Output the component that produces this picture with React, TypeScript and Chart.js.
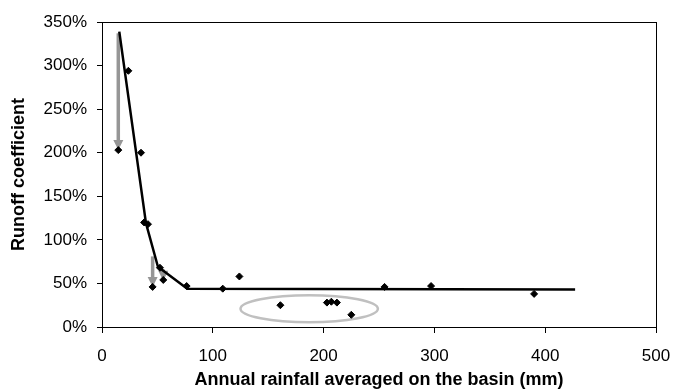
import React, { useEffect, useRef } from 'react';
import { Chart, registerables } from 'chart.js';

Chart.register(...registerables);

// Observed basins: annual rainfall (mm) and runoff coefficient (%)
const rainfall = [14.7, 23.8, 35.2, 38, 41.5, 45.7, 52.3, 55.3, 76.4, 109, 124, 161, 203, 207, 212, 225, 255, 297, 390];
const runoff = [203, 294, 200, 120, 118, 46, 68, 54, 47, 44, 58, 25, 28, 29, 28, 14, 46, 47, 38];

// Fitted curve
const curveRainfall = [15.6, 39.7, 50.5, 77, 427];
const curveRunoff = [339, 119, 69, 44, 43];

// Grey arrows (rainfall, from %, to %)
const arrowRainfall = [14.7, 45.7, 55.3];
const arrowFrom = [337, 81, 66];
const arrowTo = [203, 46, 53];

// Grey ellipse around the cluster (centre and radii in data units)
const ellipseCenter = [187, 21];
const ellipseRadius = [62, 15.5];

const xMin = 0, xMax = 500, xStep = 100;
const yMin = 0, yMax = 350, yStep = 50;

const xTitle = 'Annual rainfall averaged on the basin (mm)';
const yTitle = 'Runoff coefficient';

export default function App() {
  const ref = useRef<HTMLCanvasElement>(null);

  useEffect(() => {
    if (!ref.current) return;
    const overlay = {
      id: 'overlay',
      beforeDatasetsDraw(chart: any) {
        const { ctx, scales } = chart;
        const xs = scales.x, ys = scales.y;
        ctx.save();
        // ellipse
        const cx = xs.getPixelForValue(ellipseCenter[0]);
        const cy = ys.getPixelForValue(ellipseCenter[1]);
        const rx = Math.abs(xs.getPixelForValue(ellipseCenter[0] + ellipseRadius[0]) - cx);
        const ry = Math.abs(ys.getPixelForValue(ellipseCenter[1] + ellipseRadius[1]) - cy);
        ctx.beginPath();
        ctx.ellipse(cx, cy, rx, ry, 0, 0, Math.PI * 2);
        ctx.strokeStyle = '#c0c0c0';
        ctx.lineWidth = 2.5;
        ctx.stroke();
        // arrows
        ctx.fillStyle = '#969696';
        ctx.strokeStyle = '#969696';
        for (let i = 0; i < arrowRainfall.length; i++) {
          const px = xs.getPixelForValue(arrowRainfall[i]);
          const y0 = ys.getPixelForValue(arrowFrom[i]);
          const y1 = ys.getPixelForValue(arrowTo[i]);
          const head = 10;
          ctx.lineWidth = 3.5;
          ctx.beginPath();
          ctx.moveTo(px, y0);
          ctx.lineTo(px, y1 - head + 1);
          ctx.stroke();
          ctx.beginPath();
          ctx.moveTo(px - 5, y1 - head);
          ctx.lineTo(px + 5, y1 - head);
          ctx.lineTo(px, y1);
          ctx.closePath();
          ctx.fill();
        }
        ctx.restore();
      },
      afterDraw(chart: any) {
        const { ctx, chartArea } = chart;
        ctx.save();
        ctx.strokeStyle = '#000';
        ctx.lineWidth = 1;
        ctx.strokeRect(
          Math.round(chartArea.left) + 0.5,
          Math.round(chartArea.top) + 0.5,
          Math.round(chartArea.right - chartArea.left),
          Math.round(chartArea.bottom - chartArea.top)
        );
        ctx.restore();
      },
    };

    const family = '"Liberation Sans", Arial, sans-serif';
    const tickFont = { family, size: 17 };
    const chart = new Chart(ref.current, {
      type: 'scatter',
      data: {
        datasets: [
          {
            label: 'observed',
            data: rainfall.map((x, i) => ({ x, y: runoff[i] })),
            pointStyle: 'rectRot',
            pointRadius: 3.5,
            pointBackgroundColor: '#000',
            pointBorderColor: '#000',
            pointBorderWidth: 1,
            showLine: false,
            order: 0,
          },
          {
            label: 'curve',
            data: curveRainfall.map((x, i) => ({ x, y: curveRunoff[i] })),
            showLine: true,
            borderColor: '#000',
            borderWidth: 2.5,
            pointRadius: 0,
            tension: 0,
            order: 1,
          },
        ],
      },
      plugins: [overlay],
      options: {
        responsive: false,
        animation: false,
        layout: { padding: { left: 0, top: 22, right: 19, bottom: 0 } },
        plugins: { legend: { display: false }, tooltip: { enabled: false } },
        scales: {
          x: {
            type: 'linear',
            min: xMin,
            max: xMax,
            afterFit: (s: any) => { s.height = 62; s.paddingLeft = 0; s.paddingRight = 0; },
            ticks: { stepSize: xStep, color: '#000', font: tickFont, padding: 13, maxRotation: 0 },
            grid: { drawOnChartArea: false, tickLength: 6, color: '#000', tickColor: '#000' },
            border: { color: '#000', width: 1 },
            title: { display: true, text: xTitle, color: '#000', font: { family, size: 18, weight: 'bold', lineHeight: 1 }, padding: { top: 0, bottom: 0 } },
          },
          y: {
            type: 'linear',
            min: yMin,
            max: yMax,
            afterFit: (s: any) => { s.width = 102; s.paddingTop = 0; s.paddingBottom = 0; },
            ticks: { stepSize: yStep, color: '#000', font: tickFont, padding: 10, callback: (v: any) => v + '%' },
            grid: { drawOnChartArea: false, tickLength: 5, color: '#000', tickColor: '#000' },
            border: { color: '#000', width: 1 },
            title: { display: true, text: yTitle, color: '#000', font: { family, size: 18, weight: 'bold' }, padding: { top: 8.5, bottom: 0 } },
          },
        },
      },
    });
    return () => chart.destroy();
  }, []);

  return (
    <div style={{ position: 'fixed', left: 0, top: 0, width: 675, height: 389, background: '#fff' }}>
      <canvas ref={ref} width={675} height={389} style={{ display: 'block' }} />
    </div>
  );
}
